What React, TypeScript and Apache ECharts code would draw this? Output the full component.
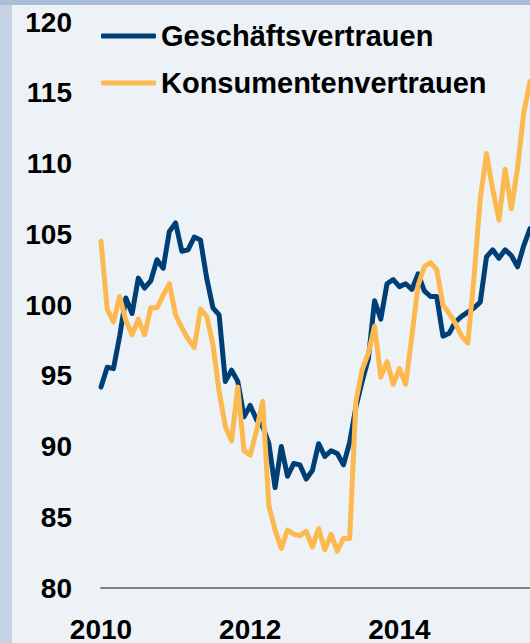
import React, { useEffect, useRef } from "react";
import * as echarts from "echarts";

const seriesNames = ["Geschäftsvertrauen", "Konsumentenvertrauen"];

// Monthly categories Jan 2010 .. Oct 2015
const months: string[] = [];
for (let y = 2010; y <= 2015; y++) {
  for (let m = 1; m <= 12; m++) {
    if (months.length < 70) months.push(`${y}-${m < 10 ? "0" + m : m}`);
  }
}

const businessConfidence = [
  94.2, 95.6, 95.5, 97.8, 100.5, 99.4, 101.9, 101.2, 101.7, 103.2, 102.6, 105.2,
  105.8, 103.8, 103.9, 104.8, 104.6, 101.9, 99.8, 99.3, 94.6, 95.4, 94.6, 92.1,
  92.9, 91.9, 91.4, 90.2, 87.1, 90.0, 87.9, 88.8, 88.7, 87.7, 88.3, 90.2,
  89.3, 89.7, 89.5, 88.7, 90.3, 92.8, 94.6, 96.2, 100.3, 99.0, 101.5, 101.8,
  101.3, 101.5, 101.1, 102.2, 101.0, 100.6, 100.6, 97.8, 98.0, 98.8, 99.2, 99.5,
  99.8, 100.2, 103.4, 103.9, 103.3, 103.9, 103.5, 102.7, 104.2, 105.4,
];

const consumerConfidence = [
  104.5, 99.7, 98.8, 100.6, 98.9, 97.9, 99.0, 97.9, 99.8, 99.8, 100.7, 101.5,
  99.3, 98.4, 97.6, 97.0, 99.7, 99.2, 97.2, 93.9, 91.4, 90.4, 94.2, 89.7,
  89.4, 91.1, 93.2, 85.8, 84.1, 82.8, 84.1, 83.8, 83.7, 84.0, 82.9, 84.2,
  82.7, 83.8, 82.6, 83.5, 83.5, 93.2, 95.4, 96.6, 98.5, 94.9, 96.0, 94.4,
  95.5, 94.4, 97.8, 101.4, 102.7, 103.0, 102.5, 100.0, 99.4, 98.7, 97.8, 97.3,
  102.0, 107.5, 110.7, 108.2, 106.0, 109.6, 106.8, 109.7, 113.6, 115.8,
];

const yMin = 80;
const yMax = 120;
const yStep = 5;

const FONT = "'Liberation Sans', Arial, Helvetica, sans-serif";

export default function App() {
  const ref = useRef<HTMLDivElement>(null);

  useEffect(() => {
    if (!ref.current) return;
    const chart = echarts.init(ref.current, undefined, { renderer: "svg" });
    chart.setOption({
      animation: false,
      backgroundColor: "#edf2f7",
      graphic: [
        { type: "rect", left: 0, top: 0, shape: { width: 12, height: 643 }, style: { fill: "#c4d2e3" }, silent: true },
        { type: "rect", left: 0, top: 0, shape: { width: 530, height: 5 }, style: { fill: "#a8bed7" }, silent: true },
      ],
      grid: { left: 101, right: 0, top: 22, bottom: 51, containLabel: false },
      legend: {
        orient: "vertical",
        left: 101,
        top: 21,
        itemWidth: 55,
        itemHeight: 5,
        itemGap: 17,
        icon: "roundRect",
        padding: 0,
        data: seriesNames,
        textStyle: {
          fontSize: 29,
          fontWeight: "bold",
          fontFamily: FONT,
          color: "#000",
          lineHeight: 30,
        },
      },
      xAxis: {
        type: "category",
        data: months,
        boundaryGap: false,
        axisLine: { show: true, lineStyle: { color: "#808080", width: 2 } },
        axisTick: { show: false },
        splitLine: { show: false },
        axisLabel: {
          interval: (i: number) => i % 24 === 0,
          formatter: (v: string) => v.slice(0, 4),
          fontSize: 28,
          fontWeight: "bold",
          fontFamily: FONT,
          color: "#000",
          margin: 27,
        },
      },
      yAxis: {
        type: "value",
        min: yMin,
        max: yMax,
        interval: yStep,
        axisLine: { show: false },
        axisTick: { show: false },
        splitLine: { show: false },
        axisLabel: {
          fontSize: 28,
          fontWeight: "bold",
          fontFamily: FONT,
          color: "#000",
          margin: 29,
        },
      },
      series: [
        {
          name: seriesNames[0],
          type: "line",
          data: businessConfidence,
          symbol: "none",
          itemStyle: { color: "#003f75" },
          lineStyle: { color: "#003f75", width: 5, join: "round", cap: "round" },
        },
        {
          name: seriesNames[1],
          type: "line",
          data: consumerConfidence,
          symbol: "none",
          itemStyle: { color: "#fcb94f" },
          lineStyle: { color: "#fcb94f", width: 5, join: "round", cap: "round" },
        },
      ],
    });
    return () => chart.dispose();
  }, []);

  return (
    <div
      ref={ref}
      style={{ position: "fixed", left: 0, top: 0, width: 530, height: 643 }}
    />
  );
}
